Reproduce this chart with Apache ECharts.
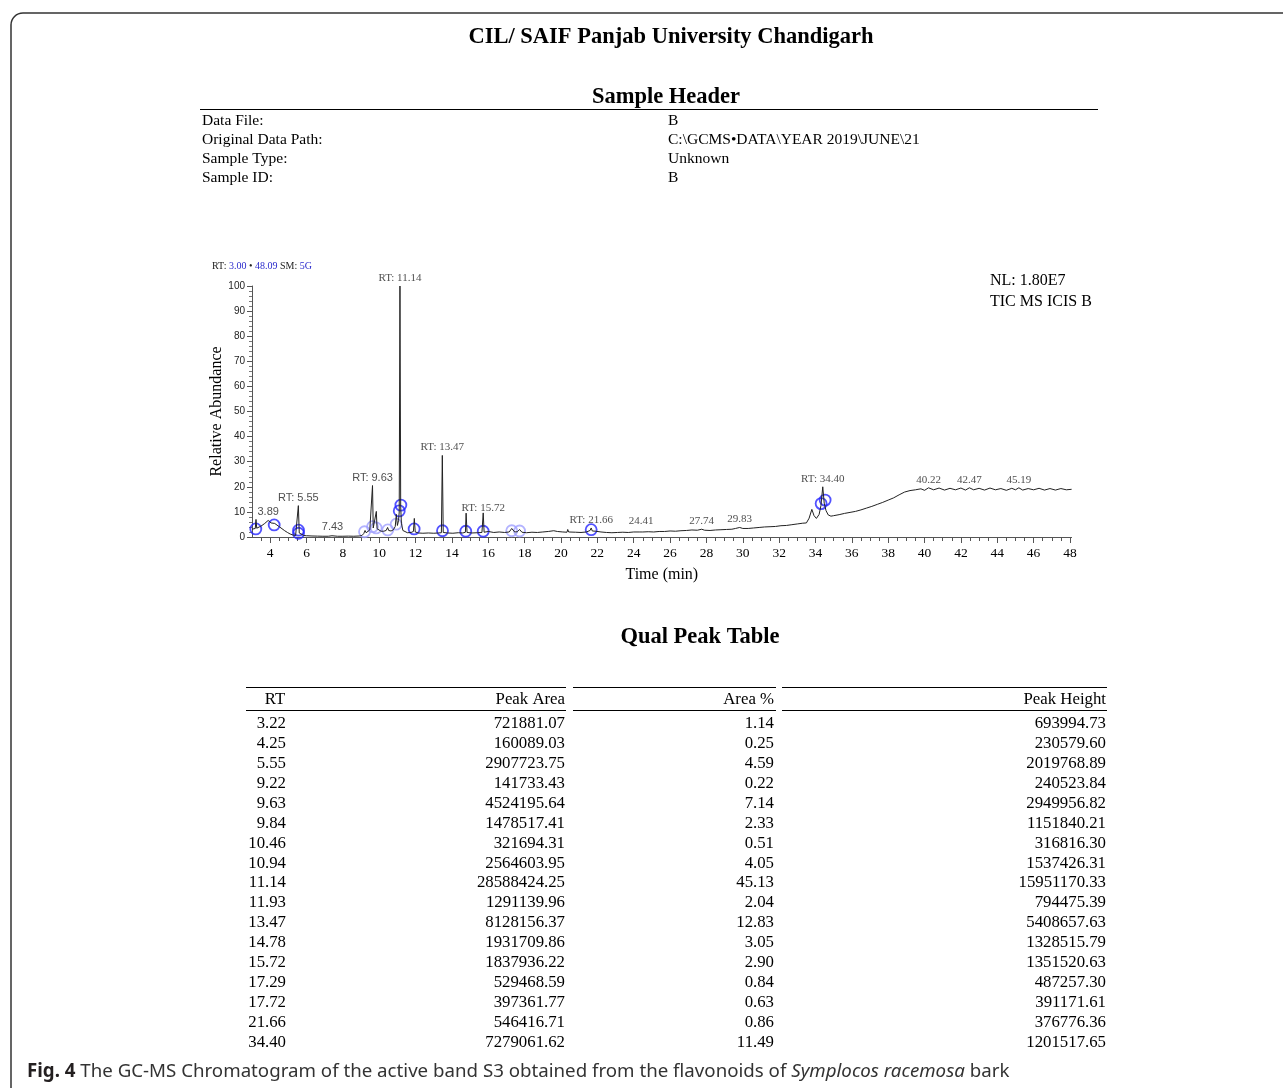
<!DOCTYPE html>
<html>
<head>
<meta charset="utf-8">
<title>GC-MS Chromatogram</title>
<script src="https://cdn.jsdelivr.net/npm/echarts@6/dist/echarts.min.js"></script>
<style>
  html, body { margin: 0; padding: 0; background: #fff; }
  #main { width: 1283px; height: 1088px; }
</style>
</head>
<body>
<div id="main"></div>
<script>
// chromatogram trace (time in min, relative abundance %)
var traceTime = [3.00, 3.10, 3.18, 3.22, 3.26, 3.40, 3.55, 3.70, 3.80, 3.89, 3.95, 4.05, 4.15, 4.25, 4.35, 4.50, 4.65, 4.80, 4.95, 5.10,
  5.25, 5.40, 5.50, 5.55, 5.60, 5.70, 5.85, 6.00, 6.30, 6.60, 6.90, 7.20, 7.40, 7.43, 7.46, 7.70, 8.00, 8.30, 8.60, 8.90,
  9.05, 9.15, 9.22, 9.28, 9.38, 9.48, 9.58, 9.63, 9.67, 9.76, 9.84, 9.88, 9.98, 10.10, 10.25, 10.38, 10.46, 10.52, 10.65, 10.78,
  10.88, 10.94, 11.00, 11.06, 11.10, 11.14, 11.18, 11.22, 11.30, 11.40, 11.55, 11.75, 11.88, 11.93, 11.98, 12.15, 12.40, 12.70, 13.00, 13.25,
  13.42, 13.47, 13.52, 13.75, 14.05, 14.35, 14.60, 14.74, 14.78, 14.83, 15.10, 15.40, 15.65, 15.72, 15.77, 16.00, 16.30, 16.60, 16.90, 17.15,
  17.29, 17.45, 17.60, 17.72, 17.85, 18.10, 18.40, 18.70, 19.00, 19.30, 19.60, 19.80, 20.10, 20.33, 20.37, 20.42, 20.80, 21.10, 21.40, 21.60,
  21.66, 21.72, 21.90, 22.20, 22.50, 22.80, 23.10, 23.40, 23.70, 24.00, 24.30, 24.41, 24.50, 24.80, 25.10, 25.40, 25.70, 26.00, 26.30, 26.60,
  26.90, 27.20, 27.50, 27.74, 27.90, 28.20, 28.50, 28.80, 29.10, 29.40, 29.60, 29.83, 30.00, 30.30, 30.60, 30.90, 31.20, 31.50, 31.80, 32.10,
  32.40, 32.70, 33.00, 33.30, 33.50, 33.65, 33.80, 33.92, 34.05, 34.20, 34.30, 34.40, 34.48, 34.58, 34.70, 34.85, 35.00, 35.30, 35.60, 35.90,
  36.20, 36.50, 36.80, 37.10, 37.40, 37.70, 38.00, 38.30, 38.60, 38.90, 39.20, 39.50, 39.80, 40.00, 40.22, 40.50, 40.80, 41.10, 41.40, 41.70,
  42.00, 42.25, 42.47, 42.70, 43.00, 43.30, 43.60, 43.90, 44.20, 44.50, 44.80, 45.00, 45.19, 45.40, 45.70, 46.00, 46.30, 46.60, 46.90, 47.20,
  47.50, 47.80, 48.09];
var traceAbund = [3.1, 3.2, 3.4, 7.0, 3.5, 4.0, 4.6, 5.4, 6.0, 6.6, 6.2, 5.6, 5.2, 5.4, 4.8, 4.1, 3.3, 2.5, 1.8, 1.2,
  0.8, 0.6, 0.9, 12.5, 1.6, 0.9, 0.6, 0.5, 0.4, 0.35, 0.3, 0.3, 0.5, 0.9, 0.4, 0.3, 0.3, 0.35, 0.3, 0.4,
  0.6, 1.4, 2.6, 1.7, 2.0, 2.8, 3.4, 20.5, 3.6, 3.2, 10.2, 3.3, 2.6, 2.3, 2.3, 2.6, 3.8, 2.6, 2.4, 2.9,
  4.2, 9.0, 4.6, 6.5, 10.0, 100, 12.0, 5.5, 2.6, 1.9, 1.7, 1.8, 2.2, 7.4, 2.0, 1.6, 1.5, 1.6, 1.5, 1.6,
  1.7, 32.5, 1.8, 1.6, 1.5, 1.7, 1.6, 1.9, 9.5, 1.8, 1.6, 1.7, 1.8, 9.6, 1.9, 2.2, 1.8, 2.0, 1.8, 2.0,
  3.4, 2.0, 2.1, 3.0, 1.9, 1.7, 1.9, 1.8, 2.0, 2.2, 2.5, 2.2, 2.0, 1.9, 3.0, 2.0, 1.9, 1.8, 2.0, 2.6,
  3.6, 2.4, 2.3, 2.0, 1.8, 1.7, 1.8, 1.9, 1.8, 2.0, 2.0, 2.5, 2.0, 2.1, 2.0, 2.2, 2.2, 2.4, 2.3, 2.5,
  2.6, 2.8, 2.7, 3.1, 2.7, 2.6, 2.8, 2.9, 3.0, 3.1, 3.4, 3.8, 3.4, 3.4, 3.6, 3.8, 4.0, 4.1, 4.2, 4.5,
  4.6, 4.9, 5.2, 5.5, 5.6, 7.5, 11.0, 8.5, 7.4, 9.0, 12.5, 20.0, 13.5, 10.5, 8.8, 8.3, 8.5, 8.9, 9.4, 9.8,
  10.2, 10.8, 11.5, 12.2, 13.0, 13.8, 14.7, 15.6, 16.8, 17.9, 18.5, 18.8, 19.2, 18.6, 19.6, 18.8, 19.5, 18.7, 19.4, 18.8,
  19.5, 18.7, 19.6, 18.8, 19.4, 18.7, 19.5, 18.8, 19.3, 18.6, 19.4, 18.8, 19.6, 18.7, 19.3, 18.8, 19.4, 18.7, 19.3, 18.7,
  19.3, 18.8, 19.0];

// peak markers (blue circles): time, abundance, pale or not
var markTime  = [3.21, 4.22, 5.56, 5.56, 9.19, 9.63, 9.83, 10.47, 10.93, 11.10, 11.19, 11.92, 13.48, 14.76, 15.72, 17.29, 17.72, 21.66, 34.31, 34.53];
var markAbund = [3.2, 4.8, 2.7, 1.5, 2.1, 4.1, 3.6, 2.8, 5.1, 10.4, 12.7, 3.2, 2.5, 2.3, 2.3, 2.5, 2.4, 2.9, 13.3, 14.7];
var markPale  = [0, 0, 0, 0, 1, 1, 1, 1, 1, 0, 0, 0, 0, 0, 0, 1, 1, 0, 0, 0];

// peak labels
var labelText  = ['3.89', 'RT: 5.55', '7.43', 'RT: 9.63', 'RT: 11.14', 'RT: 13.47', 'RT: 15.72', 'RT: 21.66',
  '24.41', '27.74', '29.83', 'RT: 34.40', '40.22', '42.47', '45.19'];
var labelTime  = [3.89, 5.55, 7.43, 9.63, 11.14, 13.47, 15.72, 21.66, 24.41, 27.74, 29.83, 34.40, 40.22, 42.47, 45.19];
var labelAbund = [6.6, 12.5, 0.9, 20.5, 100, 32.5, 8.4, 3.6, 3.2, 3.1, 3.8, 20.0, 19.4, 19.4, 19.4];
var labelSans  = [1, 1, 1, 1, 0, 0, 0, 0, 0, 0, 0, 0, 0, 0, 0];

var xTickLabels = [4, 6, 8, 10, 12, 14, 16, 18, 20, 22, 24, 26, 28, 30, 32, 34, 36, 38, 40, 42, 44, 46, 48];

// qual peak table
var rtValues = [3.22, 4.25, 5.55, 9.22, 9.63, 9.84, 10.46, 10.94, 11.14, 11.93, 13.47, 14.78, 15.72, 17.29, 17.72, 21.66, 34.40];
var peakAreas = [721881.07, 160089.03, 2907723.75, 141733.43, 4524195.64, 1478517.41, 321694.31, 2564603.95, 28588424.25,
  1291139.96, 8128156.37, 1931709.86, 1837936.22, 529468.59, 397361.77, 546416.71, 7279061.62];
var areaPercents = [1.14, 0.25, 4.59, 0.22, 7.14, 2.33, 0.51, 4.05, 45.13, 2.04, 12.83, 3.05, 2.90, 0.84, 0.63, 0.86, 11.49];
var peakHeights = [693994.73, 230579.60, 2019768.89, 240523.84, 2949956.82, 1151840.21, 316816.30, 1537426.31, 15951170.33,
  794475.39, 5408657.63, 1328515.79, 1351520.63, 487257.30, 391171.61, 376776.36, 1201517.65];

var headerKeys = ['Data File:', 'Original Data Path:', 'Sample Type:', 'Sample ID:'];
var headerVals = ['B', 'C:\\GCMS\u2022DATA\\YEAR 2019\\JUNE\\21', 'Unknown', 'B'];

var serif = '"Liberation Serif", "DejaVu Serif", serif';
var sans = '"Liberation Sans", Arial, sans-serif';

var chart = echarts.init(document.getElementById('main'));

var tracePts = [];
for (var i = 0; i < traceTime.length; i++) tracePts.push([traceTime[i], traceAbund[i]]);

var markPts = [];
for (var i = 0; i < markTime.length; i++) {
  markPts.push({
    value: [markTime[i], markAbund[i]],
    itemStyle: { borderColor: markPale[i] ? '#a0a0ff' : '#2626ff' }
  });
}

var labelPts = [];
for (var i = 0; i < labelText.length; i++) {
  labelPts.push({
    name: labelText[i],
    value: [labelTime[i], labelAbund[i]],
    label: { fontFamily: labelSans[i] ? sans : serif }
  });
}

var minorTicks = [];
for (var t = 3.5; t <= 48.01; t += 0.5) minorTicks.push(t);

// graphic: page texts, header block and peak table
var g = [];
g.push({ type: 'rect', shape: { x: 11, y: 13, width: 1400, height: 1200, r: 12 }, style: { fill: 'none', stroke: '#333', lineWidth: 1.5 }, silent: true });
g.push({ type: 'text', style: { x: 671, y: 37, text: 'CIL/ SAIF Panjab University Chandigarh', font: 'bold 22.5px ' + serif, fill: '#000', textAlign: 'center', textVerticalAlign: 'middle' } });
g.push({ type: 'text', style: { x: 666, y: 97, text: 'Sample Header', font: 'bold 22.5px ' + serif, fill: '#000', textAlign: 'center', textVerticalAlign: 'middle' } });
g.push({ type: 'line', shape: { x1: 200, y1: 109.5, x2: 1098, y2: 109.5 }, style: { stroke: '#000', lineWidth: 1 } });
for (var i = 0; i < headerKeys.length; i++) {
  g.push({ type: 'text', style: { x: 202, y: 121 + i * 19, text: headerKeys[i], font: '15.5px ' + serif, fill: '#000', textVerticalAlign: 'middle' } });
  g.push({ type: 'text', style: { x: 668, y: 121 + i * 19, text: headerVals[i], font: '15.5px ' + serif, fill: '#000', textVerticalAlign: 'middle' } });
}
g.push({ type: 'text', style: { x: 212, y: 266, text: 'RT: {b|3.00} \u2022 {b|48.09} SM: {b|5G}', font: '10px ' + serif, fill: '#222', textVerticalAlign: 'middle',
  rich: { b: { fill: '#2a2acc', font: '10px ' + serif } } } });
g.push({ type: 'text', style: { x: 990, y: 281, text: 'NL: 1.80E7', font: '16px ' + serif, fill: '#000', textVerticalAlign: 'middle' } });
g.push({ type: 'text', style: { x: 990, y: 302, text: 'TIC MS ICIS B', font: '16px ' + serif, fill: '#000', textVerticalAlign: 'middle' } });

g.push({ type: 'text', style: { x: 700, y: 637, text: 'Qual Peak Table', font: 'bold 22.5px ' + serif, fill: '#000', textAlign: 'center', textVerticalAlign: 'middle' } });
var segs = [[246, 566], [573, 776], [782, 1107]];
for (var s = 0; s < segs.length; s++) {
  g.push({ type: 'line', shape: { x1: segs[s][0], y1: 687.5, x2: segs[s][1], y2: 687.5 }, style: { stroke: '#000', lineWidth: 1 } });
  g.push({ type: 'line', shape: { x1: segs[s][0], y1: 710.5, x2: segs[s][1], y2: 710.5 }, style: { stroke: '#000', lineWidth: 1 } });
}
var tf = '16.8px ' + serif;
g.push({ type: 'text', style: { x: 275, y: 700, text: 'RT', font: tf, fill: '#000', textAlign: 'center', textVerticalAlign: 'middle' } });
g.push({ type: 'text', style: { x: 565, y: 700, text: 'Peak Area', font: tf, fill: '#000', textAlign: 'right', textVerticalAlign: 'middle' } });
g.push({ type: 'text', style: { x: 774, y: 700, text: 'Area %', font: tf, fill: '#000', textAlign: 'right', textVerticalAlign: 'middle' } });
g.push({ type: 'text', style: { x: 1106, y: 700, text: 'Peak Height', font: tf, fill: '#000', textAlign: 'right', textVerticalAlign: 'middle' } });
for (var i = 0; i < rtValues.length; i++) {
  var y = 723.5 + i * 19.95;
  g.push({ type: 'text', style: { x: 286, y: y, text: rtValues[i].toFixed(2), font: tf, fill: '#000', textAlign: 'right', textVerticalAlign: 'middle' } });
  g.push({ type: 'text', style: { x: 565, y: y, text: peakAreas[i].toFixed(2), font: tf, fill: '#000', textAlign: 'right', textVerticalAlign: 'middle' } });
  g.push({ type: 'text', style: { x: 774, y: y, text: areaPercents[i].toFixed(2), font: tf, fill: '#000', textAlign: 'right', textVerticalAlign: 'middle' } });
  g.push({ type: 'text', style: { x: 1106, y: y, text: peakHeights[i].toFixed(2), font: tf, fill: '#000', textAlign: 'right', textVerticalAlign: 'middle' } });
}
g.push({ type: 'text', style: { x: 27, y: 1072, text: '{f|Fig. 4} The GC-MS Chromatogram of the active band S3 obtained from the flavonoids of {i|Symplocos racemosa} bark',
  font: '18.7px "Noto Sans", sans-serif', fill: '#333', textVerticalAlign: 'middle',
  rich: { f: { font: 'bold 18.7px "Noto Sans", sans-serif', fill: '#231f20' }, i: { font: 'italic 18.7px "Noto Sans", sans-serif', fill: '#333' } } } });

var option = {
  backgroundColor: '#fff',
  animation: false,
  graphic: g,
  grid: { left: 252, right: 211.4, top: 286, bottom: 551 },
  xAxis: [
    {
      type: 'value', position: 'bottom', min: 3, max: 48.09,
      axisLine: { show: true, lineStyle: { color: '#555', width: 1 } },
      axisTick: { show: true, length: 4, customValues: minorTicks, lineStyle: { color: '#555' } },
      axisLabel: { show: false },
      splitLine: { show: false }
    },
    {
      type: 'value', position: 'bottom', min: 3, max: 48.09,
      name: 'Time (min)', nameLocation: 'middle', nameGap: 30,
      nameTextStyle: { fontFamily: serif, fontSize: 16, color: '#000' },
      axisLine: { show: false },
      axisTick: { show: true, length: 6, customValues: xTickLabels, lineStyle: { color: '#555' } },
      axisLabel: { customValues: xTickLabels, fontFamily: serif, fontSize: 13.5, color: '#000', margin: 9 },
      splitLine: { show: false }
    }
  ],
  yAxis: {
    type: 'value', min: 0, max: 100, interval: 10,
    name: 'Relative Abundance', nameLocation: 'middle', nameGap: 27, nameMoveOverlap: false,
    nameTextStyle: { fontFamily: serif, fontSize: 16, color: '#000' },
    axisLine: { show: true, lineStyle: { color: '#555', width: 1 } },
    axisTick: { show: true, length: 5, lineStyle: { color: '#555' } },
    minorTick: { show: true, splitNumber: 5, length: 3, lineStyle: { color: '#777' } },
    axisLabel: { fontFamily: sans, fontSize: 10, color: '#222', margin: 7 },
    splitLine: { show: false }
  },
  series: [
    {
      name: 'TIC', type: 'line', xAxisIndex: 0, data: tracePts,
      showSymbol: false, symbol: 'none', lineStyle: { color: '#222', width: 1 }, silent: true
    },
    {
      name: 'peaks', type: 'scatter', xAxisIndex: 0, data: markPts,
      symbol: 'circle', symbolSize: 11, silent: true,
      itemStyle: { color: 'rgba(0,0,0,0)', borderWidth: 1.8 }
    },
    {
      name: 'labels', type: 'scatter', xAxisIndex: 0, data: labelPts, clip: false,
      symbolSize: 1, itemStyle: { color: 'rgba(0,0,0,0)' }, silent: true,
      label: { show: true, position: 'top', distance: 2, formatter: '{b}', fontSize: 11, color: '#222' }
    }
  ]
};
chart.setOption(option);
</script>
</body>
</html>
